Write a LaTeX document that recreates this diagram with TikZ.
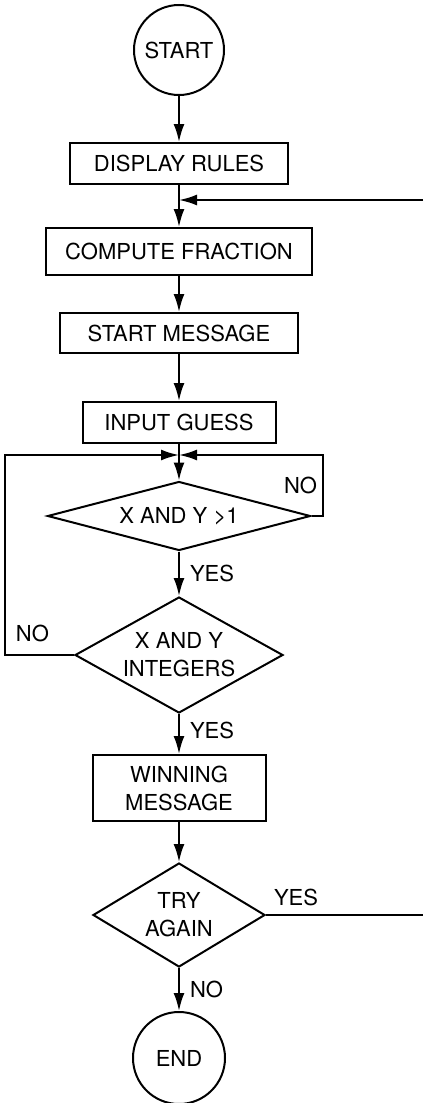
\documentclass[tikz,border=0pt]{standalone}
\usepackage{fontspec}
\setmainfont{TeX Gyre Heros}
\usetikzlibrary{shapes.geometric}
\usetikzlibrary{arrows.meta}
\tikzstyle{terminal}=[circle,draw=black,minimum size=45pt,inner sep=0mm]
\tikzstyle{box}=[rectangle,draw=black,inner sep=0mm,minimum height=20.5pt,align=center]
\tikzstyle{test}=[diamond,draw=black,inner sep=0mm,align=center]
\tikzstyle{arrow}=[-{Latex[length=9pt,width=5.5pt]}]
\tikzstyle{lbl}=[inner sep=0mm]
\tikzset{every picture/.style={
    line width=1
  },
  every node/.style={font=\fontsize{11}{14}\selectfont}
}

\begin{document}
\begin{tikzpicture}[x=0.5pt,y=-0.5pt]
      \useasboundingbox (0,0) rectangle (423,1103);
      \node[terminal] at (179,50) (start) {START};
      \node[box,minimum width=109pt] at (179,163.5) (rules) {DISPLAY RULES};
      \node[box,minimum width=133pt,minimum height=23.5pt] at (179,251.5) (fraction) {COMPUTE FRACTION};
      \node[box,minimum width=119pt,minimum height=20pt] at (179,333) (startmsg) {START MESSAGE};
      \node[box,minimum width=96.5pt] at (179,422.5) (guess) {INPUT GUESS};
      \node[test,minimum width=131.5pt,minimum height=34.5pt,aspect=3.8] at (179,516) (bigger) {X AND Y >1};
      \node[test,minimum width=104pt,minimum height=58pt,aspect=1.8] at (179,655) (integers) {X AND Y\\INTEGERS};
      \node[box,minimum width=86.5pt,minimum height=33pt] at (179,788) (winmsg) {WINNING\\MESSAGE};
      \node[test,minimum width=86pt,minimum height=52pt,aspect=1.65] at (179,915) (again) {TRY\\AGAIN};
      \node[terminal,minimum size=46pt] at (179,1058) (end) {END};
      \coordinate (join1) at (179,200);
      \coordinate (back1) at (423,200);
      \coordinate (join2) at (179,455);
      \coordinate (right1) at (323,455);
      \coordinate (left1) at (5,455);
      \coordinate (back2) at (423,915);
      \draw[arrow] (start) -- (rules);
      \draw (rules) -- (join1);
      \draw[arrow] (join1) -- (fraction);
      \draw[arrow] (back1) -- (join1);
      \draw[arrow] (fraction) -- (startmsg);
      \draw[arrow] (startmsg) -- (guess);
      \draw (guess) -- (join2);
      \draw[arrow] (join2) -- (bigger);
      \draw[arrow] (bigger.east) -| node[lbl,pos=0.75,left=2.5pt] {NO} (right1) -- (join2);
      \draw[arrow] (integers.west) -| node[lbl,pos=0.5,anchor=south west,xshift=5pt,yshift=6pt] {NO} (left1) -- (join2);
      \draw[arrow] (bigger) -- node[lbl,midway,right=5pt] {YES} (integers);
      \draw[arrow] (integers) -- node[lbl,pos=0.4,right=5pt] {YES} (winmsg);
      \draw[arrow] (winmsg) -- (again);
      \draw (again.east) -- node[lbl,pos=0,anchor=south west,xshift=3.5pt,yshift=4pt] {YES} (back2);
      \draw[arrow] (again) -- node[lbl,midway,right=5pt] {NO} (end);
    \end{tikzpicture}
\end{document}
